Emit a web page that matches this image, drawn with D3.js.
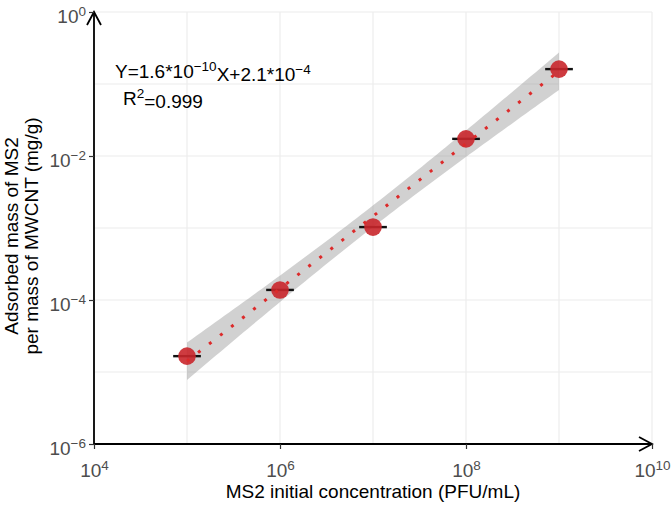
<!DOCTYPE html>
<html>
<head>
<meta charset="utf-8">
<script src="https://cdn.jsdelivr.net/npm/d3@7"></script>
<style>
  body { margin: 0; background: #fff; }
  text { font-family: "Liberation Sans", Arial, sans-serif; }
</style>
</head>
<body>
<div id="chart"></div>
<script>
// data
const conc = [1e5, 1e6, 1e7, 1e8, 1e9]
const concLow = [7.1e4, 7.1e5, 7.1e6, 7.1e7, 7.1e8]
const concHigh = [1.41e5, 1.41e6, 1.41e7, 1.41e8, 1.41e9]
const adsorbed = [1.66e-5, 1.38e-4, 1.03e-3, 1.73e-2, 0.161]

const xTickExp = [4, 6, 8, 10]
const yTickExp = [-6, -4, -2, 0]
const xGridExp = [4, 5, 6, 7, 8, 9, 10]
const yGridExp = [-6, -5, -4, -3, -2, -1, 0]

const T_975_DF3 = 3.182

const gc = {
    width: 672,
    height: 505,
    left: 94,
    right: 652,
    top: 12,
    bottom: 444,
    grid: '#ebebeb',
    tickText: '#4d4d4d',
    point: '#c9262b',
    line: '#dc2a2a',
    band: '#999999',
    font: '19px',
    sup: '13.5px'
}

const svg = d3.select('#chart').append('svg')
    .attr('width', gc.width)
    .attr('height', gc.height)

const x = d3.scaleLog().domain([1e4, 1e10]).range([gc.left, gc.right])
const y = d3.scaleLog().domain([1e-6, 1]).range([gc.bottom, gc.top])

// grid
svg.append('g').selectAll('line.vg')
    .data(xGridExp).join('line')
    .attr('x1', d => x(Math.pow(10, d))).attr('x2', d => x(Math.pow(10, d)))
    .attr('y1', gc.top).attr('y2', gc.bottom)
    .style('stroke', gc.grid).style('stroke-width', 1.1)
svg.append('g').selectAll('line.hg')
    .data(yGridExp).join('line')
    .attr('y1', d => y(Math.pow(10, d))).attr('y2', d => y(Math.pow(10, d)))
    .attr('x1', gc.left).attr('x2', gc.right)
    .style('stroke', gc.grid).style('stroke-width', 1.1)

// linear fit in log-log space with 95% confidence band
const lx = conc.map(Math.log10)
const ly = adsorbed.map(Math.log10)
const n = lx.length
const mx = d3.mean(lx), my = d3.mean(ly)
const sxx = d3.sum(lx, v => (v - mx) * (v - mx))
const slope = d3.sum(lx, (v, i) => (v - mx) * (ly[i] - my)) / sxx
const icpt = my - slope * mx
const sse = d3.sum(lx, (v, i) => Math.pow(ly[i] - (icpt + slope * v), 2))
const s = Math.sqrt(sse / (n - 2))

const fit = d3.range(80).map(i => {
    const lv = d3.min(lx) + i * (d3.max(lx) - d3.min(lx)) / 79
    const yh = icpt + slope * lv
    const se = s * Math.sqrt(1 / n + (lv - mx) * (lv - mx) / sxx)
    return { x: Math.pow(10, lv), y: Math.pow(10, yh),
             lo: Math.pow(10, yh - T_975_DF3 * se), hi: Math.pow(10, yh + T_975_DF3 * se) }
})

svg.append('path')
    .datum(fit)
    .attr('d', d3.area().x(d => x(d.x)).y0(d => y(d.lo)).y1(d => y(d.hi)))
    .style('fill', gc.band)
    .style('fill-opacity', 0.45)

// horizontal error bars
svg.append('g').selectAll('line')
    .data(conc).join('line')
    .attr('x1', (d, i) => x(concLow[i]))
    .attr('x2', (d, i) => x(concHigh[i]))
    .attr('y1', (d, i) => y(adsorbed[i]))
    .attr('y2', (d, i) => y(adsorbed[i]))
    .style('stroke', '#111')
    .style('stroke-width', 2.4)

// points
svg.append('g').selectAll('circle')
    .data(conc).join('circle')
    .attr('cx', d => x(d))
    .attr('cy', (d, i) => y(adsorbed[i]))
    .attr('r', 8.8)
    .style('fill', gc.point)
    .style('fill-opacity', 0.9)

// fitted line, dotted
svg.append('path')
    .datum(fit)
    .attr('d', d3.line().x(d => x(d.x)).y(d => y(d.y)))
    .style('fill', 'none')
    .style('stroke', gc.line)
    .style('stroke-width', 3)
    .style('stroke-dasharray', '3,11')

// arrow marker
svg.append('defs').append('marker')
    .attr('id', 'arrow')
    .attr('viewBox', '-14 -8 16 16')
    .attr('refX', 0).attr('refY', 0)
    .attr('markerWidth', 16).attr('markerHeight', 16)
    .attr('markerUnits', 'userSpaceOnUse')
    .attr('orient', 'auto')
    .append('path')
    .attr('d', 'M-13,-7L0,0L-13,7')
    .style('fill', 'none')
    .style('stroke', '#000')
    .style('stroke-width', 1.8)

function supLabel(sel, exp) {
    sel.text(null)
    sel.append('tspan').text('10')
    sel.append('tspan')
        .attr('dy', '-0.5em')
        .style('font-size', gc.sup)
        .text(String(exp).replace('-', '\u2212'))
}

// x axis
const xAxis = svg.append('g')
    .attr('transform', `translate(0,${gc.bottom})`)
    .call(d3.axisBottom(x)
        .tickValues(xTickExp.map(e => Math.pow(10, e)))
        .tickSize(5).tickSizeOuter(0).tickPadding(6))
xAxis.select('.domain')
    .attr('d', `M${gc.left},0H${gc.right}`)
    .style('stroke', '#000').style('stroke-width', 1.8)
    .attr('marker-end', 'url(#arrow)')
xAxis.selectAll('.tick line').style('stroke', '#333').style('stroke-width', 1.2)
xAxis.selectAll('.tick text')
    .style('font-size', gc.font).style('fill', gc.tickText)
    .attr('dy', '1.15em')
    .each(function(d, i) { supLabel(d3.select(this), xTickExp[i]) })

// y axis
const yAxis = svg.append('g')
    .attr('transform', `translate(${gc.left},0)`)
    .call(d3.axisLeft(y)
        .tickValues(yTickExp.map(e => Math.pow(10, e)))
        .tickSize(5).tickSizeOuter(0).tickPadding(3))
yAxis.select('.domain')
    .attr('d', `M0,${gc.bottom}V${gc.top}`)
    .style('stroke', '#000').style('stroke-width', 1.8)
    .attr('marker-end', 'url(#arrow)')
yAxis.selectAll('.tick line').style('stroke', '#333').style('stroke-width', 1.2)
yAxis.selectAll('.tick text')
    .style('font-size', gc.font).style('fill', gc.tickText)
    .attr('dy', '0.55em')
    .each(function(d, i) { supLabel(d3.select(this), yTickExp[i]) })

// axis titles
svg.append('text')
    .attr('x', (gc.left + gc.right) / 2)
    .attr('y', 498)
    .attr('text-anchor', 'middle')
    .style('font-size', gc.font)
    .text('MS2 initial concentration (PFU/mL)')

const yt = svg.append('text')
    .attr('transform', `translate(18,236) rotate(-90)`)
    .attr('text-anchor', 'middle')
    .style('font-size', gc.font)
yt.append('tspan').attr('x', 0).attr('dy', 0).text('Adsorbed mass of MS2')
yt.append('tspan').attr('x', 0).attr('dy', '1.05em').text('per mass of MWCNT (mg/g)')

// equation annotation
const eq = svg.append('text')
    .attr('x', 115).attr('y', 78)
    .style('font-size', gc.font)
eq.append('tspan').text('Y=1.6*10')
eq.append('tspan').attr('dy', '-0.5em').style('font-size', gc.sup).text('\u221210')
eq.append('tspan').attr('dy', '0.5em').text('X+2.1*10')
eq.append('tspan').attr('dy', '-0.5em').style('font-size', gc.sup).text('\u22124')

const r2 = svg.append('text')
    .attr('x', 123).attr('y', 105)
    .style('font-size', gc.font)
r2.append('tspan').text('R')
r2.append('tspan').attr('dy', '-0.5em').style('font-size', gc.sup).text('2')
r2.append('tspan').attr('dy', '0.5em').text('=0.999')
</script>
</body>
</html>
